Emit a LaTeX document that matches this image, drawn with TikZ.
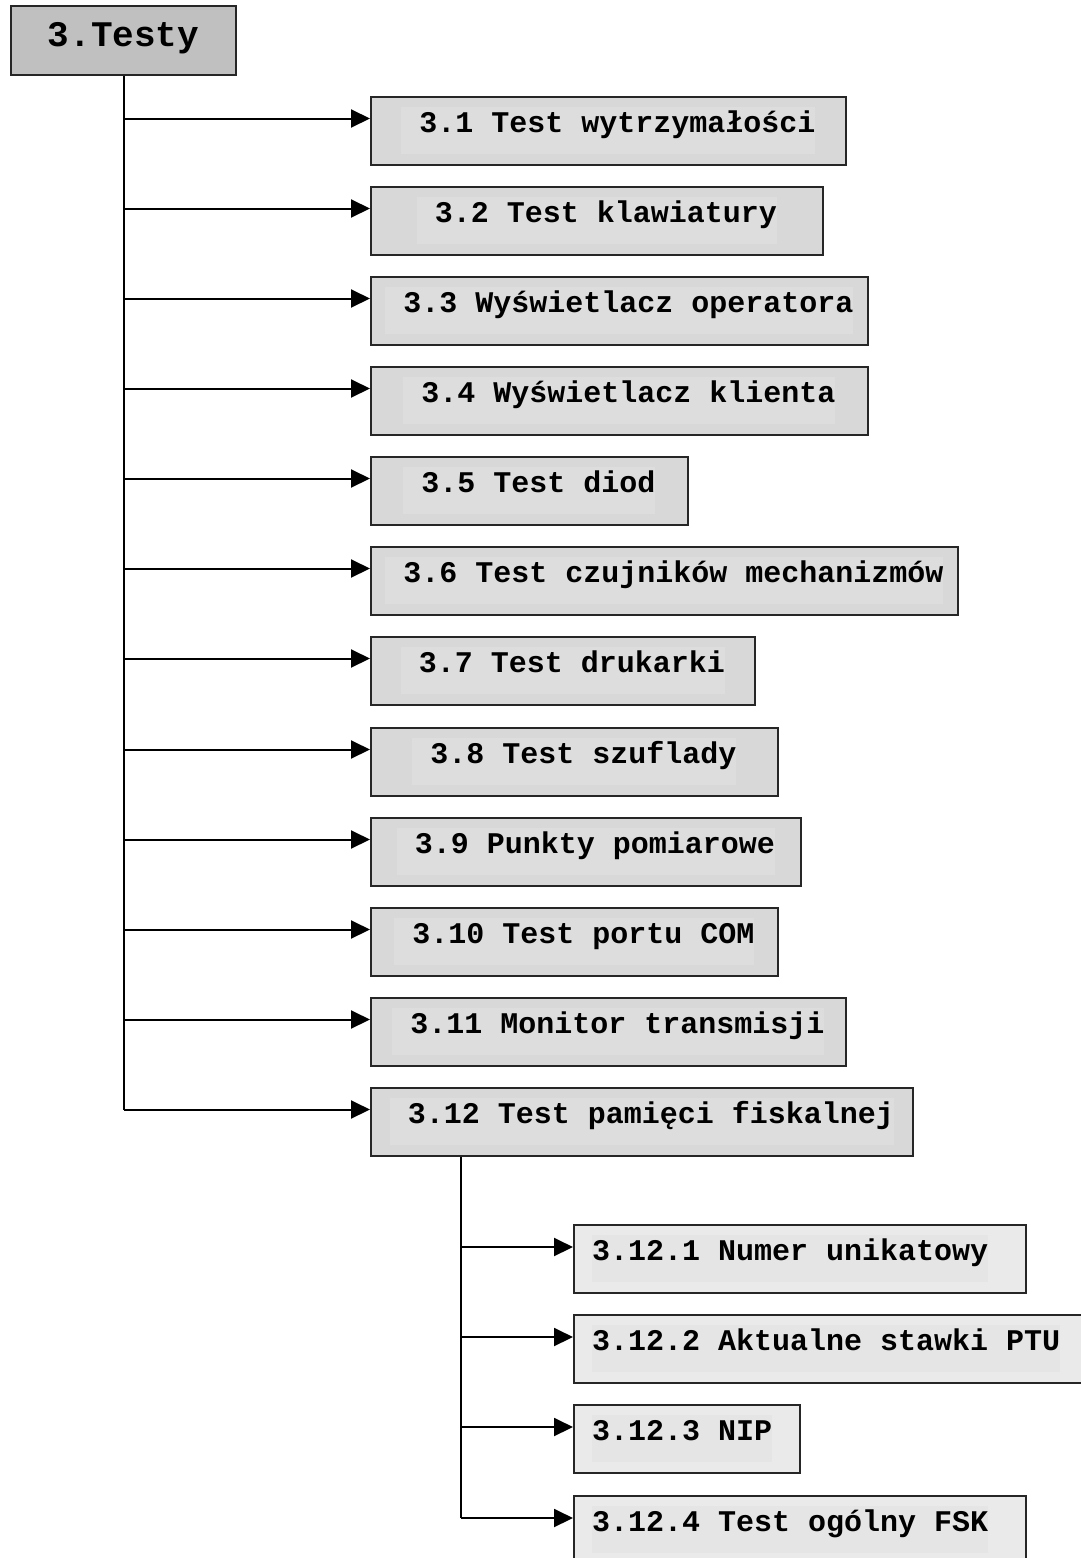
\documentclass[tikz,border=0pt]{standalone}
\usepackage{fontspec}
\setmonofont{Liberation Mono}
\usetikzlibrary{arrows.meta,calc}
\definecolor{topfill}{HTML}{C0C0C0}
\definecolor{mainout}{HTML}{D8D8D8}
\definecolor{maininner}{HTML}{DDDDDD}
\definecolor{subout}{HTML}{EAEAEA}
\definecolor{subinner}{HTML}{E5E5E5}
\tikzset{
  boxline/.style={draw=black!85, line width=1.8pt},
  topbox/.style={boxline, line width=2.2pt, fill=topfill, rectangle, anchor=north west, minimum width=225pt, minimum height=69pt, inner sep=0pt},
  mainbox/.style={boxline, fill=mainout, rectangle, anchor=north west, minimum height=68pt, inner sep=0pt},
  subbox/.style={boxline, fill=subout, rectangle, anchor=north west, minimum height=68pt, inner sep=0pt},
  hl/.style={fill=maininner, inner xsep=0pt, inner ysep=7pt, text height=18pt, text depth=15pt, anchor=base, font=\ttfamily\bfseries\fontsize{30}{36}\selectfont},
  subhl/.style={hl, fill=subinner, anchor=base west},
  trunk/.style={line width=2pt, draw=black},
  conn/.style={line width=2pt, draw=black, -{Triangle[length=19pt,width=18pt]}}
}
\begin{document}
\begin{tikzpicture}[x=1pt,y=-1pt]
\useasboundingbox (0,0) rectangle (1081,1558);
\clip (0,0) rectangle (1081,1558);
\node[topbox] (top) at (10,5) {};
\node[font=\ttfamily\bfseries\fontsize{36}{42}\selectfont, anchor=base, inner sep=0pt] (toplabel) at ($(top.north)+(0,41)$) {3.Testy};
\foreach \i/\yy/\w/\s in {
  1/96/475/3.1 Test wytrzymałości,
  2/186/452/3.2 Test klawiatury,
  3/276/497/3.3 Wyświetlacz operatora,
  4/366/497/3.4 Wyświetlacz klienta,
  5/456/317/3.5 Test diod,
  6/546/587/3.6 Test czujników mechanizmów,
  7/636/384/3.7 Test drukarki,
  8/727/407/3.8 Test szuflady,
  9/817/430/3.9 Punkty pomiarowe,
  10/907/407/3.10 Test portu COM,
  11/997/475/3.11 Monitor transmisji,
  12/1087/542/3.12 Test pamięci fiskalnej}{
  \node[mainbox, minimum width=\w pt] (b\i) at (370,\yy) {};
  \node[hl] (t\i) at ($(b\i.north)+(0,36)$) {~\s~};
  \coordinate (in\i) at ($(b\i.north west)+(0,22.5)$);
  \draw[conn] (top.south |- in\i) -- (in\i);
}
\draw[trunk] (top.south) -- (top.south |- in12);
\coordinate (sr) at ($(b12.south west)+(90.5,0)$);
\foreach \i/\yy/\w/\s in {
  1/1224/452/3.12.1 Numer unikatowy,
  2/1314/527/3.12.2 Aktualne stawki PTU,
  3/1404/226/3.12.3 NIP,
  4/1495/452/3.12.4 Test ogólny FSK}{
  \node[subbox, minimum width=\w pt] (s\i) at (573,\yy) {};
  \node[subhl] (st\i) at ($(s\i.north west)+(19,36)$) {\s~};
  \coordinate (sin\i) at ($(s\i.north west)+(0,23)$);
  \draw[conn] (sr |- sin\i) -- (sin\i);
}
\draw[trunk] (sr) -- (sr |- sin4);
\end{tikzpicture}
\end{document}
